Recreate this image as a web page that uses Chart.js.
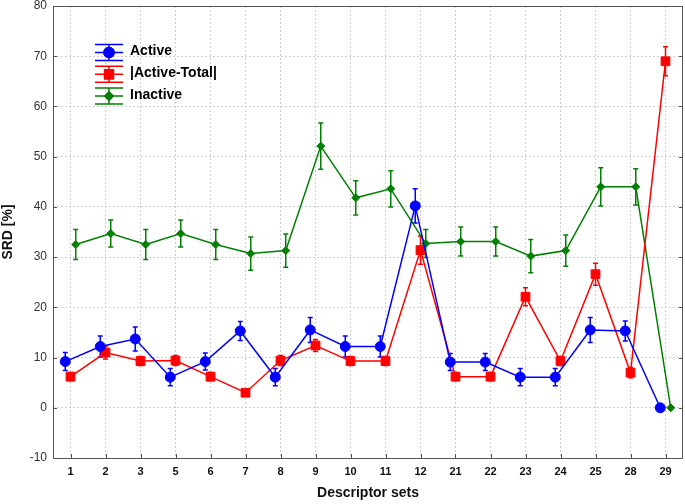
<!DOCTYPE html>
<html>
<head>
<meta charset="utf-8">
<script src="https://cdn.jsdelivr.net/npm/chart.js@4.4.1/dist/chart.umd.min.js"></script>
<style>
  html, body { margin: 0; padding: 0; background: #fff; }
  #wrap { width: 685px; height: 504px; }
</style>
</head>
<body>
<div id="wrap"><canvas id="myChart" width="685" height="504"></canvas></div>
<script>
// descriptor sets on the x axis
const categories = ['1', '2', '3', '5', '6', '7', '8', '9', '10', '11', '12', '21', '22', '23', '24', '25', '28', '29'];

// SRD [%] values and their error bar half-widths
const active      = [9.2, 12.2, 13.7, 6.1, 9.2, 15.3, 6.1, 15.5, 12.2, 12.2, 40.2, 9.1, 9.1, 6.1, 6.1, 15.5, 15.3, 0];
const activeErr   = [1.8, 2.1, 2.4, 1.7, 1.7, 1.9, 1.7, 2.5, 2.1, 2.1, 3.4, 1.7, 1.7, 1.7, 1.7, 2.5, 2.0, 0];
const diff        = [6.2, 11.0, 9.3, 9.4, 6.2, 3.0, 9.4, 12.4, 9.3, 9.3, 31.4, 6.2, 6.2, 22.1, 9.3, 26.6, 7.0, 69.0];
const diffErr     = [0.8, 1.3, 0.9, 1.0, 0.8, 0.4, 1.0, 1.2, 0.9, 0.9, 2.8, 0.8, 0.8, 1.8, 0.9, 2.2, 1.0, 2.9];
const inactive    = [32.5, 34.7, 32.5, 34.7, 32.5, 30.7, 31.3, 52.1, 41.8, 43.6, 32.7, 33.1, 33.1, 30.2, 31.3, 44.0, 44.0, 0];
const inactiveErr = [3.0, 2.7, 3.0, 2.7, 3.0, 3.3, 3.3, 4.6, 3.4, 3.6, 2.8, 2.9, 2.9, 3.3, 3.1, 3.8, 3.6, 0];

const yTicks = [-10, 0, 10, 20, 30, 40, 50, 60, 70, 80];

const FONT = "'Liberation Sans', Arial, sans-serif";

// small sideways shift per series, like the original (in category units)
function points(values, shift) {
  return values.map((v, i) => ({ x: i + shift, y: v }));
}

function series(label, values, errors, color, style, radius, shift) {
  return {
    label: label,
    data: points(values, shift),
    errors: errors,
    borderColor: color,
    backgroundColor: color,
    pointBackgroundColor: color,
    pointBorderColor: color,
    pointStyle: style,
    pointRadius: radius,
    pointBorderWidth: 1,
    borderWidth: 1.5,
    tension: 0
  };
}

// error bars, drawn under the markers
const errorBars = {
  id: 'errorBars',
  beforeDatasetsDraw(chart) {
    const ctx = chart.ctx;
    const y = chart.scales.y;
    chart.data.datasets.forEach((ds, di) => {
      const meta = chart.getDatasetMeta(di);
      ctx.save();
      ctx.strokeStyle = ds.borderColor;
      ctx.lineWidth = 1.5;
      meta.data.forEach((pt, i) => {
        const e = ds.errors[i];
        if (!e) return;
        const v = ds.data[i].y;
        const top = y.getPixelForValue(v + e);
        const bot = y.getPixelForValue(v - e);
        ctx.beginPath();
        ctx.moveTo(pt.x, top); ctx.lineTo(pt.x, bot);
        ctx.moveTo(pt.x - 2.5, top); ctx.lineTo(pt.x + 2.5, top);
        ctx.moveTo(pt.x - 2.5, bot); ctx.lineTo(pt.x + 2.5, bot);
        ctx.stroke();
      });
      ctx.restore();
    });
  }
};

// frame round the plot with inward ticks, category labels, and the legend inside the plot
const frameAndLegend = {
  id: 'frameAndLegend',
  afterDraw(chart) {
    const ctx = chart.ctx;
    const a = chart.chartArea;
    const xs = chart.scales.x, ys = chart.scales.y;
    ctx.save();
    ctx.strokeStyle = '#555';
    ctx.lineWidth = 1;
    ctx.strokeRect(Math.round(a.left) + 0.5, Math.round(a.top) + 0.5, Math.round(a.right - a.left) - 1, Math.round(a.bottom - a.top));
    ctx.beginPath();
    yTicks.forEach(t => {
      const py = Math.round(ys.getPixelForValue(t)) + 0.5;
      ctx.moveTo(a.left, py); ctx.lineTo(a.left + 4, py);
      ctx.moveTo(a.right - 4, py); ctx.lineTo(a.right, py);
    });
    categories.forEach((c, i) => {
      const px = Math.round(xs.getPixelForValue(i)) + 0.5;
      ctx.moveTo(px, a.bottom); ctx.lineTo(px, a.bottom - 4);
    });
    ctx.stroke();

    // category labels under the axis
    ctx.fillStyle = '#111';
    ctx.font = 'bold 11px ' + FONT;
    ctx.textAlign = 'center';
    ctx.textBaseline = 'middle';
    categories.forEach((c, i) => {
      ctx.fillText(c, xs.getPixelForValue(i), a.bottom + 13.5);
    });

    // legend
    chart.data.datasets.forEach((ds, i) => {
      const cy = 52.5 + i * 21.8;
      const cx = 109;
      ctx.strokeStyle = ds.borderColor;
      ctx.lineWidth = 1.5;
      ctx.beginPath();
      ctx.moveTo(95, cy); ctx.lineTo(123, cy);
      ctx.moveTo(cx, cy - 8); ctx.lineTo(cx, cy + 8);
      ctx.moveTo(95, cy - 8); ctx.lineTo(123, cy - 8);
      ctx.moveTo(95, cy + 8); ctx.lineTo(123, cy + 8);
      ctx.stroke();
      ctx.fillStyle = ds.backgroundColor;
      Chart.helpers.drawPoint(ctx, { pointStyle: ds.pointStyle, radius: ds.pointRadius, borderWidth: 1, rotation: 0 }, cx, cy);
      ctx.fill();
      ctx.stroke();
      ctx.fillStyle = '#000';
      ctx.font = 'bold 14px ' + FONT;
      ctx.textBaseline = 'middle';
      ctx.textAlign = 'left';
      ctx.fillText(ds.label, 130, cy - 1);
    });
    ctx.restore();
  }
};

const ctx = document.getElementById('myChart').getContext('2d');

const myChart = new Chart(ctx, {
  type: 'line',
  data: {
    datasets: [
      series('Active', active, activeErr, 'rgb(0,0,255)', 'circle', 5, -0.15),
      series('|Active-Total|', diff, diffErr, 'rgb(255,0,0)', 'rect', 6.2, 0),
      series('Inactive', inactive, inactiveErr, 'rgb(0,128,0)', 'rectRot', 4, 0.15)
    ]
  },
  options: {
    responsive: false,
    animation: false,
    events: [],
    layout: { autoPadding: false, padding: { top: 6, right: 2, left: 0, bottom: 0 } },
    plugins: {
      legend: { display: false },
      tooltip: { enabled: false }
    },
    scales: {
      x: {
        type: 'linear',
        min: -0.5,
        max: categories.length - 0.5,
        afterBuildTicks: axis => { axis.ticks = categories.map((c, i) => ({ value: i })); },
        afterFit: axis => { axis.height = 46; },
        grid: { color: '#cfcfcf', lineWidth: 1, drawTicks: false },
        border: { display: false, dash: [2, 2] },
        ticks: { display: false },
        title: {
          display: true,
          text: 'Descriptor sets',
          color: '#111',
          padding: { top: 0, bottom: 2 },
          font: { family: FONT, size: 14, weight: 'bold' }
        }
      },
      y: {
        min: -10,
        max: 80,
        afterBuildTicks: axis => { axis.ticks = yTicks.map(v => ({ value: v })); },
        afterFit: axis => { axis.width = 53; axis.paddingTop = 0; axis.paddingBottom = 0; },
        grid: { color: '#cfcfcf', lineWidth: 1, drawTicks: false },
        border: { display: false, dash: [2, 2] },
        ticks: {
          padding: 6,
          color: '#333',
          font: { family: FONT, size: 12 }
        },
        title: {
          display: true,
          text: 'SRD [%]',
          color: '#111',
          padding: { top: 0, bottom: 0 },
          font: { family: FONT, size: 14, weight: 'bold' }
        }
      }
    }
  },
  plugins: [errorBars, frameAndLegend]
});
</script>
</body>
</html>
